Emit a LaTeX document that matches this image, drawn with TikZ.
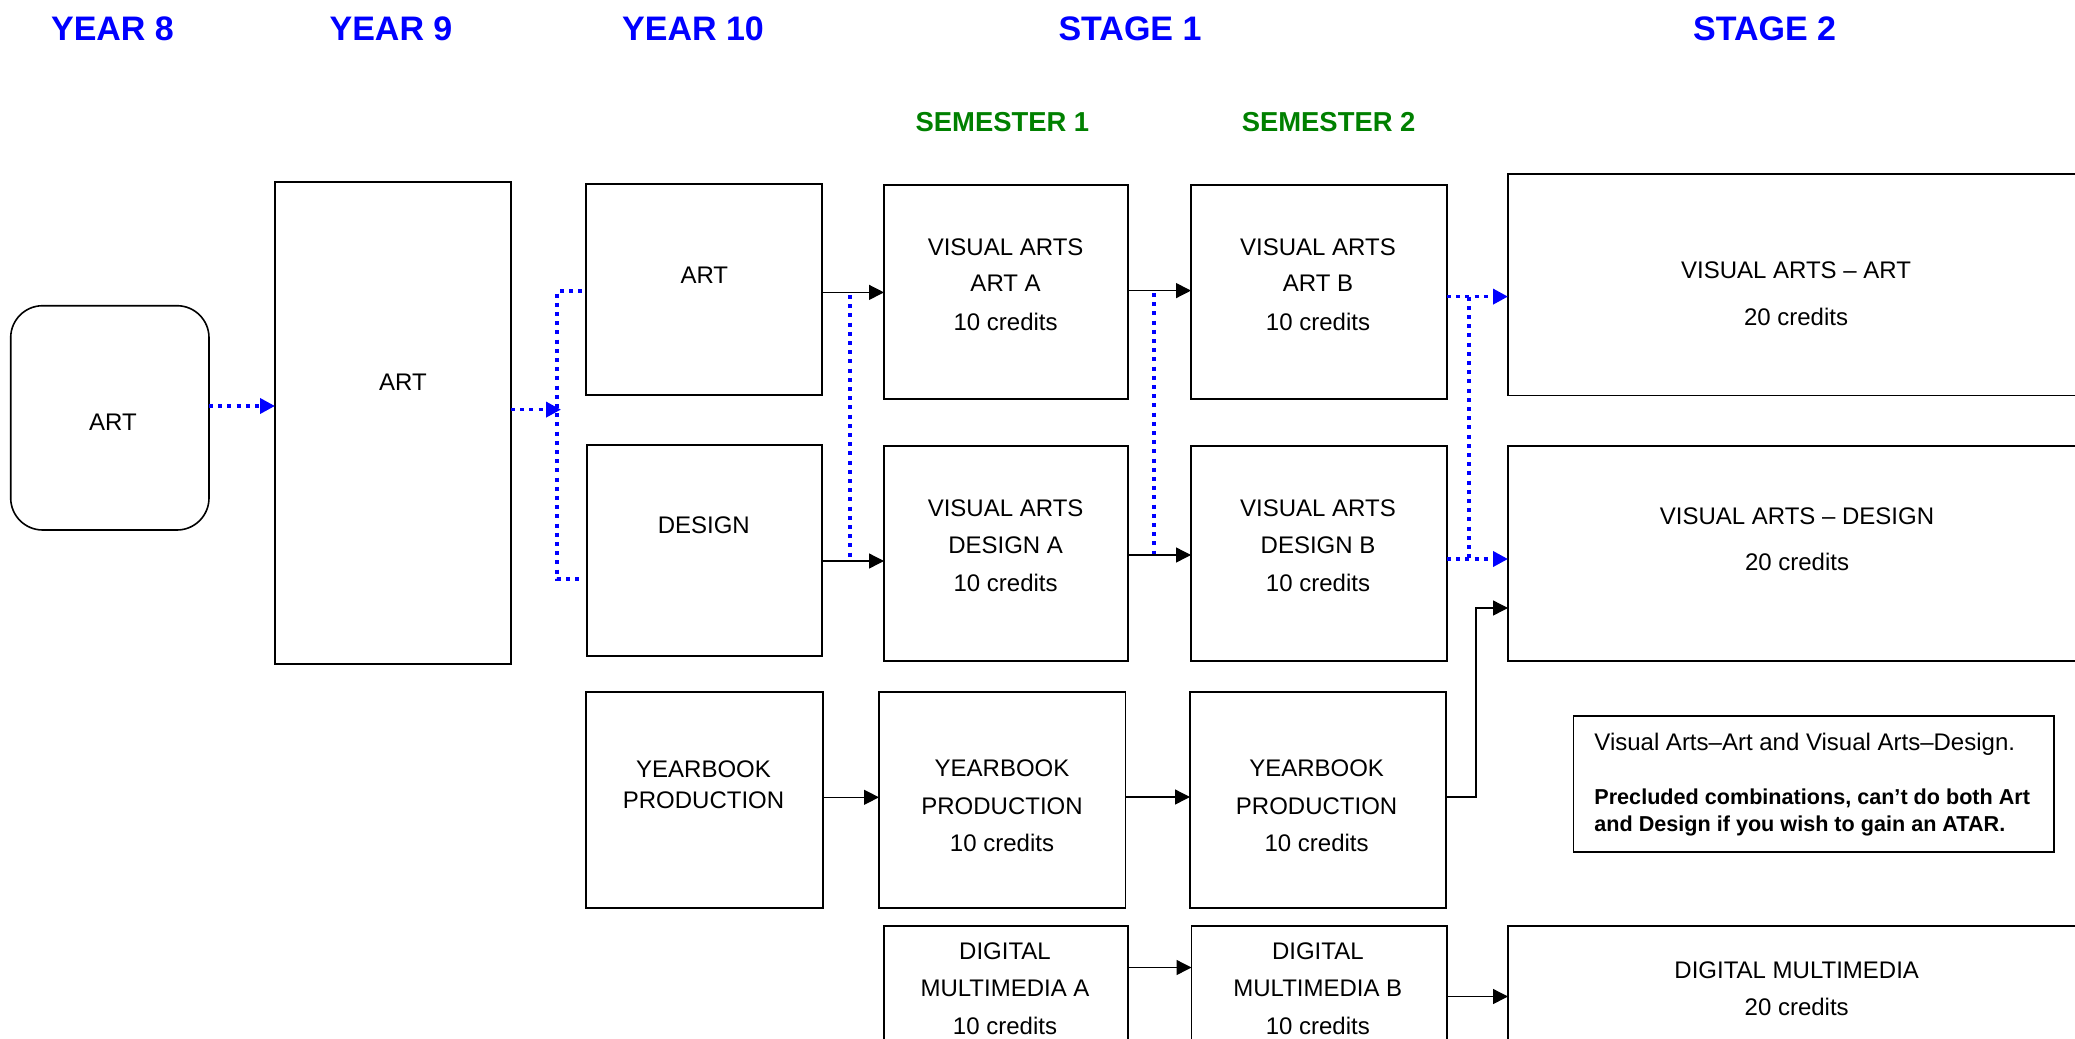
\documentclass[tikz,border=0pt]{standalone}
\usepackage{fontspec}
\setmainfont{Liberation Sans}
\usetikzlibrary{arrows.meta}
\definecolor{hblue}{RGB}{0,0,255}
\definecolor{hgreen}{RGB}{0,128,0}
\newcommand\mybox[6][]{\node[boxst,#1,minimum width={(#5-#3)*0.5pt},minimum height={(#6-#4)*0.5pt}] (#2) at ({(#3+#5)/2},{(#4+#6)/2}) {};}
\newcommand\mytxt[5][]{\node[tx,#1] (#2) at (#3,#4) {#5};}
\begin{document}
\begin{tikzpicture}[x=0.5pt,y=-0.5pt,
  boxst/.style={draw=black,line width=0.8pt,inner sep=0pt,outer sep=0pt,rectangle},
  tx/.style={anchor=base,inner sep=0pt,font=\fontsize{12}{14}\selectfont},
  hdr/.style={anchor=base,inner sep=0pt,text=hblue,font=\bfseries\fontsize{17}{20}\selectfont},
  sem/.style={anchor=base,inner sep=0pt,text=hgreen,font=\bfseries\fontsize{13.7}{16}\selectfont},
  tipst/.style={-{Triangle[length=7.5pt,width=7.5pt]}},
  arr/.style={draw=black,line width=0.65pt,tipst},
  bdot/.style={draw=hblue,line width=1.8pt,dash pattern=on 2pt off 2.6pt},
  barr/.style={bdot,-{Triangle[length=7.5pt,width=7.5pt,fill=hblue]}}]
\path[use as bounding box] (0,0) rectangle (2075,1038);

% headers
\mytxt[hdr]{h8}{112.5}{40.5}{YEAR 8}
\mytxt[hdr]{h9}{391}{40.5}{YEAR 9}
\mytxt[hdr]{h10}{693}{40.5}{YEAR 10}
\mytxt[hdr]{hs1}{1130}{40.5}{STAGE 1}
\mytxt[hdr]{hs2}{1764.6}{40.5}{STAGE 2}
\mytxt[sem]{sem1}{1002.4}{131.5}{SEMESTER 1}
\mytxt[sem]{sem2}{1328.6}{131.5}{SEMESTER 2}

% boxes
\mybox[rounded corners=16pt]{y8}{10.7}{305.7}{209}{530}
\mybox{y9}{275}{182}{511}{664}
\mybox{y10art}{586}{184}{822}{395}
\mybox{y10des}{587}{445}{822}{656}
\mybox{y10yb}{586}{692}{823}{908}
\mybox{artA}{884}{185}{1128}{399}
\mybox{desA}{884}{446}{1128}{661}
\mybox{ybA}{879}{692}{1125.5}{908}
\mybox{dmA}{884}{926}{1128}{1050}
\mybox{artB}{1191}{185}{1447}{399}
\mybox{desB}{1191}{446}{1447}{661}
\mybox{ybB}{1190}{692}{1446}{908}
\mybox{dmB}{1191.5}{926}{1447}{1050}
\mybox{s2art}{1508}{174}{2100}{395.5}
\mybox{s2des}{1508}{446}{2100}{661}
\mybox{s2dm}{1508}{926}{2100}{1050}
\mybox[line width=0.6pt]{note}{1573.6}{716}{2054}{852}

% texts
\mytxt{ty8}{112.9}{430.4}{ART}
\mytxt{ty9}{403}{390.8}{ART}
\mytxt{ty10a}{704.3}{283.1}{ART}
\mytxt{ty10d}{703.8}{533.9}{DESIGN}

\mytxt{taA1}{1005.6}{255.1}{VISUAL ARTS}
\mytxt{taA2}{1005.6}{291.9}{ART A}
\mytxt{taA3}{1005.6}{330.5}{10 credits}
\mytxt{tdA1}{1005.6}{516.4}{VISUAL ARTS}
\mytxt{tdA2}{1005.6}{553.9}{DESIGN A}
\mytxt{tdA3}{1005.6}{591.1}{10 credits}

\mytxt{taB1}{1318}{255.1}{VISUAL ARTS}
\mytxt{taB2}{1318}{291.9}{ART B}
\mytxt{taB3}{1318}{330.5}{10 credits}
\mytxt{tdB1}{1318}{516.4}{VISUAL ARTS}
\mytxt{tdB2}{1318}{553.9}{DESIGN B}
\mytxt{tdB3}{1318}{591.1}{10 credits}

\mytxt{ts2a1}{1796}{278.9}{VISUAL ARTS -- ART}
\mytxt{ts2a2}{1796}{325.9}{20 credits}
\mytxt{ts2d1}{1797}{524.1}{VISUAL ARTS -- DESIGN}
\mytxt{ts2d2}{1797}{570.6}{20 credits}

\mytxt{tyb1}{703.5}{777.9}{YEARBOOK}
\mytxt{tyb2}{703.5}{808.6}{PRODUCTION}
\mytxt{tybA1}{1002}{776.6}{YEARBOOK}
\mytxt{tybA2}{1002}{814.6}{PRODUCTION}
\mytxt{tybA3}{1002}{851.6}{10 credits}
\mytxt{tybB1}{1316.6}{776.6}{YEARBOOK}
\mytxt{tybB2}{1316.6}{814.6}{PRODUCTION}
\mytxt{tybB3}{1316.6}{851.6}{10 credits}

\mytxt{tdmA1}{1005}{959.3}{DIGITAL}
\mytxt{tdmA2}{1005}{996.9}{MULTIMEDIA A}
\mytxt{tdmA3}{1005}{1034.3}{10 credits}
\mytxt{tdmB1}{1317.8}{959.3}{DIGITAL}
\mytxt{tdmB2}{1317.8}{996.9}{MULTIMEDIA B}
\mytxt{tdmB3}{1317.8}{1034.3}{10 credits}
\mytxt{ts2m1}{1796.7}{978.6}{DIGITAL MULTIMEDIA}
\mytxt{ts2m2}{1796.7}{1015.3}{20 credits}

\mytxt[anchor=base west]{tn1}{1594}{750}{Visual Arts--Art and Visual Arts--Design.}
\mytxt[anchor=base west,font=\bfseries\fontsize{10.8}{13}\selectfont]{tn2}{1594}{804.4}{Precluded combinations, can’t do both Art}
\mytxt[anchor=base west,font=\bfseries\fontsize{10.8}{13}\selectfont]{tn3}{1594}{831}{and Design if you wish to gain an ATAR.}

% blue dotted connectors
\coordinate (bt) at (557,291);
\coordinate (bb) at (557,579);
\coordinate (bm) at (561,409.6);
\draw[barr] (y8.east |- 0,406) -- (y9.west |- 0,406);
\draw[barr] (y9.east |- bm) -- (bm);
\draw[bdot] ([xshift=-2pt]y10art.west |- bt) -- (bt) -- (bb) -- ([xshift=-2pt]y10des.west |- bb);
\coordinate (j1) at (850,295);
\coordinate (j2) at (850,561);
\draw[bdot] (j1) -- (j2);
\coordinate (j3) at (1154,293);
\coordinate (j4) at (1154,555);
\draw[bdot] (j3) -- (j4);
\coordinate (j5) at (1469,296.6);
\coordinate (j6) at (1469,559);
\draw[barr] (artB.east |- j5) -- (s2art.west |- j5);
\draw[barr] (desB.east |- j6) -- (s2des.west |- j6);
\draw[bdot] (j5) -- (j6);

% black connectors
\draw[arr] (y10art.east |- 0,292.4) -- (artA.west |- 0,292.4);
\draw[arr] (y10des.east |- j2) -- (desA.west |- j2);
\draw[arr] (artA.east |- 0,290.6) -- (artB.west |- 0,290.6);
\draw[arr] (desA.east |- j4) -- (desB.west |- j4);
\draw[arr] (y10yb.east |- 0,797.3) -- (ybA.west |- 0,797.3);
\draw[arr] (ybA.east |- 0,797) -- (ybB.west |- 0,797);
\coordinate (k1) at (1476,797);
\draw[arr] (ybB.east |- k1) -- (k1) |- (s2des.west |- 0,608);
\draw[arr] (dmA.east |- 0,967.5) -- (dmB.west |- 0,967.5);
\draw[arr] (dmB.east |- 0,996.5) -- (s2dm.west |- 0,996.5);
\end{tikzpicture}
\end{document}
